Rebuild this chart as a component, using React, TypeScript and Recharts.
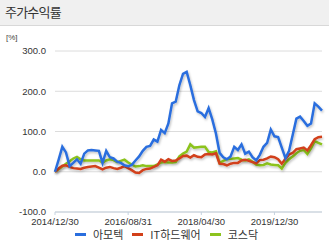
import React from 'react';
import { LineChart, Line, XAxis, YAxis, CartesianGrid, Legend } from 'recharts';

const amotech = [
  0, 30, 62, 48, 14, 22, 31, 20, 45, 53, 54, 53, 52, 22, 52, 36, 33, 25, 22, 16,
  14, 17, 28, 38, 52, 62, 64, 80, 75, 104, 96, 120, 170, 174, 215, 243, 248, 215, 178, 150,
  146, 136, 158, 130, 95, 47, 36, 31, 38, 62, 54, 68, 45, 50, 36, 28, 42, 62, 72, 105,
  88, 86, 60, 34, 52, 92, 132, 137, 126, 114, 120, 170, 162, 152,
];
const itHardware = [
  0, 8, 15, 16, 12, 9, 8, 7, 10, 12, 13, 14, 10, 6, 10, 12, 9, 7, 10, 14,
  9, 4, -2, -3, 4, 7, 8, 12, 16, 30, 25, 31, 27, 28, 33, 39, 40, 35, 41, 37,
  36, 43, 44, 43, 46, 20, 19, 16, 20, 22, 22, 28, 30, 27, 24, 21, 29, 30, 33, 38,
  36, 31, 20, 32, 43, 47, 56, 58, 60, 53, 66, 81, 86, 87,
];
const kosdaq = [
  0, 6, 13, 20, 26, 33, 37, 31, 28, 28, 28, 28, 28, 23, 28, 31, 29, 24, 27, 30,
  23, 18, 13, 14, 16, 14, 14, 14, 18, 23, 24, 23, 23, 24, 38, 45, 50, 68, 60, 61,
  62, 62, 49, 48, 51, 22, 27, 31, 32, 33, 34, 30, 28, 31, 25, 18, 16, 17, 21, 18,
  17, 16, 8, 22, 31, 38, 46, 52, 54, 44, 58, 76, 72, 68,
];

const seriesNames = ['아모텍', 'IT하드웨어', '코스닥'];
const seriesColors = ['#2a6ede', '#d2401a', '#8cc31e'];
const xTickIndex = [0, 20, 40, 60];
const xTickLabels = ['2014/12/30', '2016/08/31', '2018/04/30', '2019/12/30'];
const yTicks = [-100, 0, 100, 200, 300];

const data = amotech.map((v, i) => ({ i, a: v, b: itHardware[i], c: kosdaq[i] }));

const numFont = '"Liberation Sans", Arial, sans-serif';
const krFont = '"Noto Sans CJK KR", "Noto Sans", sans-serif';

const LegendContent = () => (
  <div
    style={{
      display: 'flex',
      justifyContent: 'center',
      alignItems: 'center',
      height: 18,
      paddingTop: 3,
      paddingLeft: 4,
      boxSizing: 'border-box',
      fontFamily: krFont,
      fontSize: 11,
      color: '#333',
      lineHeight: '13px',
    }}
  >
    {seriesNames.map((n, k) => (
      <div key={n} style={{ display: 'flex', alignItems: 'center', marginRight: k < 2 ? 9 : 0 }}>
        <div style={{ width: 11, height: 3, background: seriesColors[k], marginRight: 7 }} />
        <span>{n}</span>
      </div>
    ))}
  </div>
);

export default function App() {
  return (
    <div style={{ position: 'relative', width: 329, height: 242, background: '#fff', overflow: 'hidden' }}>
      <style>{`body{margin:0}`}</style>
      <div
        style={{
          position: 'absolute',
          left: 0,
          top: 0,
          width: 329,
          height: 25,
          background: '#f0f0f0',
          borderBottom: '1px solid #d8d8d8',
        }}
      />
      <div
        style={{
          position: 'absolute',
          left: 5,
          top: 3,
          fontFamily: krFont,
          fontSize: 13,
          color: '#333',
          lineHeight: '18px',
          letterSpacing: -0.8,
        }}
      >
        주가수익률
      </div>
      <div
        style={{
          position: 'absolute',
          left: 6,
          top: 33,
          fontFamily: numFont,
          fontSize: 8,
          color: '#444',
          lineHeight: '10px',
        }}
      >
        [%]
      </div>
      <div style={{ position: 'absolute', left: 0, top: 0 }}>
        <LineChart width={329} height={242} data={data} margin={{ top: 51, right: 7, bottom: 0, left: 0 }}>
          <defs>
            <filter id="lshadow" x="-5%" y="-5%" width="110%" height="120%">
              <feDropShadow dx="1" dy="1.5" stdDeviation="0.8" floodColor="#000" floodOpacity="0.25" />
            </filter>
          </defs>
          <CartesianGrid horizontal vertical={false} stroke="#dcdcdc" strokeWidth={1} />
          <XAxis
            dataKey="i"
            type="number"
            domain={[0, 73]}
            ticks={xTickIndex}
            tickFormatter={(v: number) => xTickLabels[xTickIndex.indexOf(v)] ?? ''}
            interval={0}
            height={12}
            stroke="#c5d2df"
            tickSize={3}
            tickMargin={3}
            tick={{ fill: '#333', fontSize: 9.5, fontFamily: numFont }}
          />
          <YAxis
            type="number"
            domain={[-100, 300]}
            ticks={yTicks}
            width={55}
            axisLine={false}
            tickLine={false}
            tickSize={0}
            tickMargin={9}
            tickFormatter={(v: number) => v.toFixed(1)}
            tick={{ fill: '#333', fontSize: 9.5, fontFamily: numFont }}
          />
          <Legend verticalAlign="bottom" height={18} wrapperStyle={{ left: 0, width: 329 }} content={<LegendContent />} />
          <Line dataKey="c" name={seriesNames[2]} stroke={seriesColors[2]} strokeWidth={2.5} dot={false} isAnimationActive={false} style={{ filter: 'url(#lshadow)' }} />
          <Line dataKey="b" name={seriesNames[1]} stroke={seriesColors[1]} strokeWidth={2.5} dot={false} isAnimationActive={false} style={{ filter: 'url(#lshadow)' }} />
          <Line dataKey="a" name={seriesNames[0]} stroke={seriesColors[0]} strokeWidth={2.5} dot={false} isAnimationActive={false} style={{ filter: 'url(#lshadow)' }} />
        </LineChart>
      </div>
    </div>
  );
}
